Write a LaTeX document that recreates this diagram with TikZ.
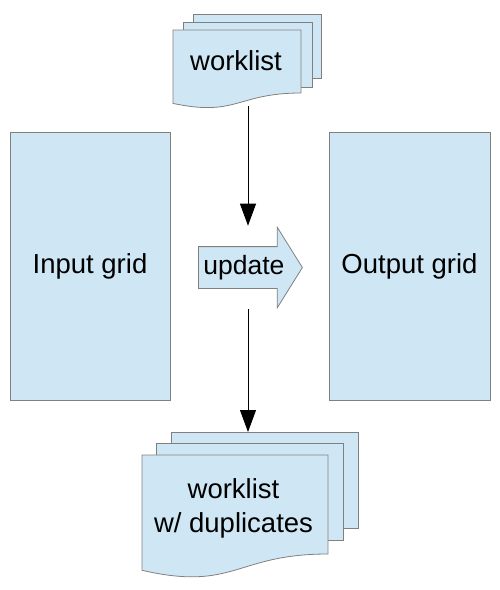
\documentclass[tikz,border=0pt]{standalone}
\usepackage{fontspec}
\setmainfont{Liberation Sans}
\usepackage{tikz}
\usetikzlibrary{arrows.meta, shapes.arrows}
\definecolor{sheetfill}{HTML}{CFE7F5}
\definecolor{sheetline}{HTML}{808080}
\tikzset{
  sheet/.style={fill=sheetfill, draw=sheetline, line width=0.8pt},
  lbl/.style={font=\fontsize{27.5}{34}\selectfont, align=center, inner sep=0pt},
  flow/.style={line width=0.8pt, -{Triangle[width=16pt, length=22pt]}},
}
\begin{document}
\begin{tikzpicture}[x=1pt, y=-1pt]
  \useasboundingbox (0,0) rectangle (500,590);
  \node[sheet, lbl, minimum width=160pt, minimum height=268pt] (ingrid) at (90,266) {Input grid};
  \node[sheet, lbl, minimum width=161pt, minimum height=268pt] (outgrid) at (409.5,266) {Output grid};
  \draw[sheet] (193,14) rectangle (321,78);
  \draw[sheet] (183,22) rectangle (312,87);
  \draw[sheet] (173,30) -- (301,30) -- (301,93) .. controls (237,93) and (237,117) .. (173,103.4) -- cycle;
  \node[lbl] (wl) at (236,61) {worklist};
  \node[sheet, single arrow, lbl, font=\fontsize{26.5}{31}\selectfont, single arrow head extend=19.5pt, single arrow tip angle=116, minimum height=104pt, text height=19pt, text depth=6pt, inner ysep=8pt, inner xsep=0pt, anchor=tail] (upd) at (198,267.5) {update};
  \draw[sheet] (171,432) rectangle (358,528);
  \draw[sheet] (156,443) rectangle (343,540);
  \draw[sheet] (142,455) -- (328,455) -- (328,554) .. controls (235,554) and (235,591.6) .. (142,570.3) -- cycle;
  \node[lbl] (dup) at (233.5,508) {worklist\\w/ duplicates};
  \coordinate (wlbot) at (248,106);
  \coordinate (duptop) at (248,432);
  \draw[flow] (wlbot) -- (wlbot |- upd.before tip);
  \draw[flow] (upd.after tip -| wlbot) -- (duptop);
\end{tikzpicture}
\end{document}
